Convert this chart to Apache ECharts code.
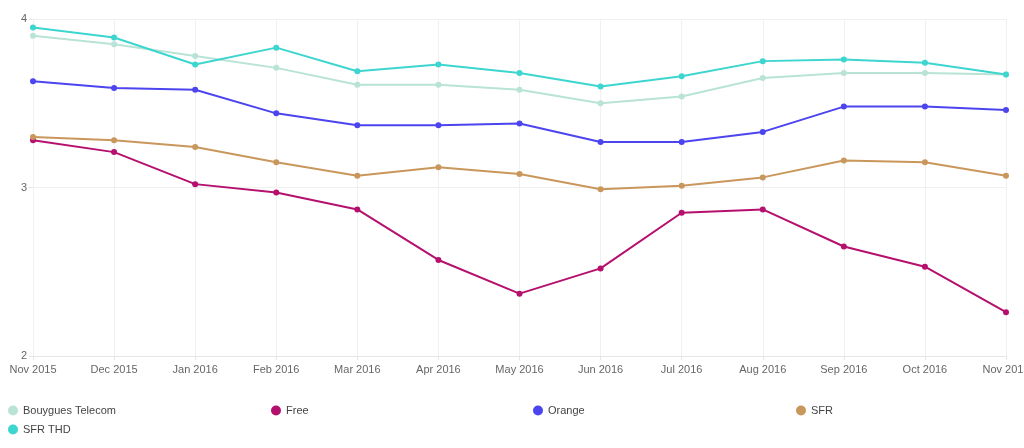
<!DOCTYPE html>
<html><head><meta charset="utf-8">
<script src="https://cdn.jsdelivr.net/npm/echarts@6/dist/echarts.min.js"></script>
<style>html,body{margin:0;padding:0;background:#fff}#c{width:1024px;height:448px}</style>
</head><body><div id="c"></div>
<script>
const categories = ["Nov 2015","Dec 2015","Jan 2016","Feb 2016","Mar 2016","Apr 2016","May 2016","Jun 2016","Jul 2016","Aug 2016","Sep 2016","Oct 2016","Nov 2016"];
const bouygues = [3.90,3.85,3.78,3.71,3.61,3.61,3.58,3.50,3.54,3.65,3.68,3.68,3.67];
const free = [3.28,3.21,3.02,2.97,2.87,2.57,2.37,2.52,2.85,2.87,2.65,2.53,2.26];
const orange = [3.63,3.59,3.58,3.44,3.37,3.37,3.38,3.27,3.27,3.33,3.48,3.48,3.46];
const sfr = [3.30,3.28,3.24,3.15,3.07,3.12,3.08,2.99,3.01,3.06,3.16,3.15,3.07];
const sfrThd = [3.95,3.89,3.73,3.83,3.69,3.73,3.68,3.60,3.66,3.75,3.76,3.74,3.67];
const names = ["Bouygues Telecom","Free","Orange","SFR","SFR THD"];
const colors = ["#b8e3d6","#b5106e","#4c45ef","#c9975c","#3dd5cf"];
const values = [bouygues, free, orange, sfr, sfrThd];
const legendPos = [[3,400],[266,400],[528,400],[791,400],[3,419]];

const chart = echarts.init(document.getElementById('c'));
chart.setOption({
  animation:false,
  grid:{left:33,right:18,top:19,bottom:92,containLabel:false,outerBoundsMode:'none'},
  legend: names.map((n,i)=>({
    data:[n], left:legendPos[i][0], top:legendPos[i][1], icon:'circle',
    itemWidth:10,itemHeight:10,itemGap:4,
    textStyle:{color:'#444',fontSize:11,fontFamily:'"Liberation Sans", Arial, sans-serif'}
  })),
  xAxis:{type:'category',data:categories,boundaryGap:false,
    axisLine:{lineStyle:{color:'#e6e6e6'}},
    axisTick:{show:true,alignWithLabel:true,length:4,lineStyle:{color:'#e6e6e6'}},
    axisLabel:{color:'#666',fontSize:11,fontFamily:'"Liberation Sans", Arial, sans-serif',margin:8,showMaxLabel:true,interval:0},
    splitLine:{show:true,lineStyle:{color:'#f0f0f0'}}},
  yAxis:{type:'value',min:2,max:4,interval:1,
    axisLine:{show:false},axisTick:{show:true,length:4,lineStyle:{color:'#e6e6e6'}},
    axisLabel:{color:'#666',fontSize:11,fontFamily:'"Liberation Sans", Arial, sans-serif',margin:6},
    splitLine:{show:true,lineStyle:{color:'#f0f0f0'}}},
  series: names.map((n,i)=>({
    name:n,type:'line',data:values[i],symbol:'circle',symbolSize:6,
    itemStyle:{color:colors[i]},lineStyle:{color:colors[i],width:2}
  }))
});
</script></body></html>
